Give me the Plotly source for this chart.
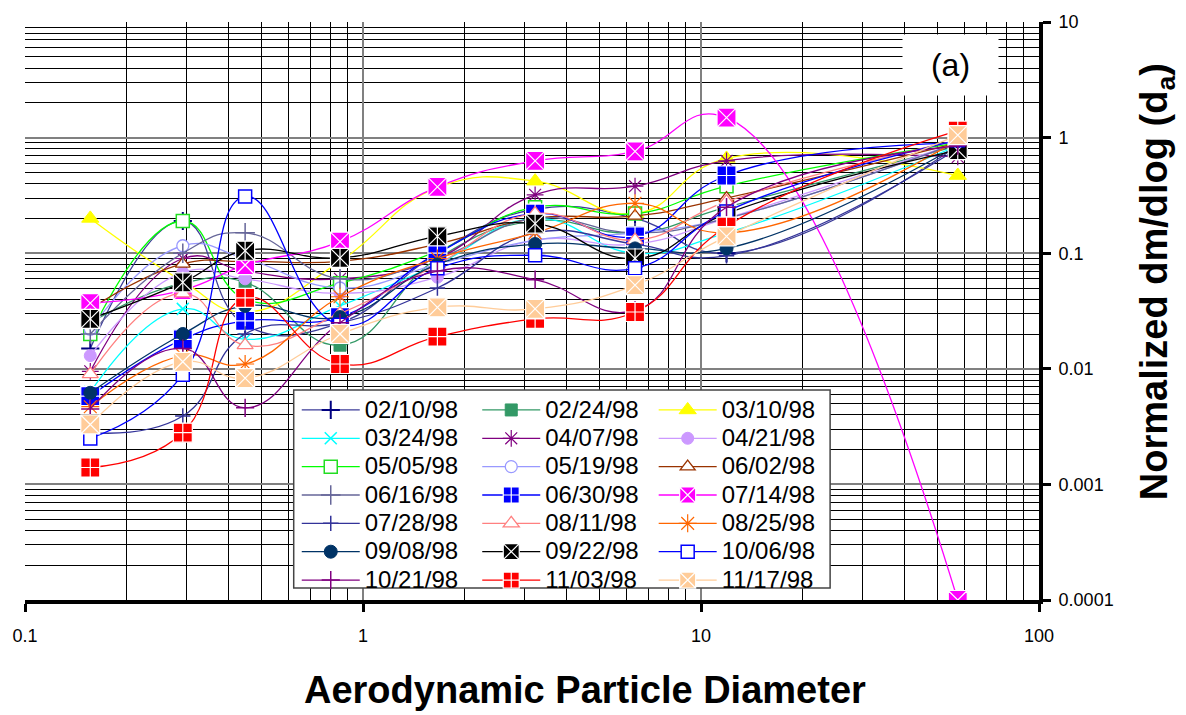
import plotly.graph_objects as go

# Aerodynamic particle diameter (um) of each impactor stage
diam = [0.156, 0.293, 0.448, 0.855, 1.66, 3.23, 6.38, 11.9, 57.5]

dates = ["02/10/98", "02/24/98", "03/10/98", "03/24/98", "04/07/98", "04/21/98",
         "05/05/98", "05/19/98", "06/02/98", "06/16/98", "06/30/98", "07/14/98",
         "07/28/98", "08/11/98", "08/25/98", "09/08/98", "09/22/98", "10/06/98",
         "10/21/98", "11/03/98", "11/17/98"]

v_0210 = [0.015, 0.19, 0.024, 0.025, 0.10, 0.24, 0.20, 0.10, 0.85]
v_0224 = [0.025, 0.055, 0.056, 0.016, 0.09, 0.19, 0.15, 0.25, 0.85]
v_0310 = [0.20, 0.057, 0.031, 0.085, 0.37, 0.42, 0.22, 0.66, 0.47]
v_0324 = [0.0063, 0.033, 0.018, 0.035, 0.08, 0.20, 0.10, 0.15, 0.85]
v_0407 = [0.0095, 0.09, 0.07, 0.060, 0.09, 0.32, 0.38, 0.63, 0.68]
v_0421 = [0.013, 0.068, 0.06, 0.045, 0.062, 0.13, 0.12, 0.20, 0.90]
v_0505 = [0.020, 0.19, 0.04, 0.055, 0.104, 0.25, 0.22, 0.38, 0.90]
v_0519 = [0.022, 0.116, 0.09, 0.05, 0.08, 0.13, 0.15, 0.20, 0.90]
v_0602 = [0.033, 0.081, 0.085, 0.085, 0.12, 0.20, 0.21, 0.30, 0.90]
v_0616 = [0.020, 0.10, 0.15, 0.06, 0.09, 0.20, 0.15, 0.20, 0.90]
v_0630 = [0.0058, 0.018, 0.026, 0.028, 0.10, 0.22, 0.14, 0.47, 0.90]
v_0714 = [0.037, 0.048, 0.079, 0.126, 0.375, 0.63, 0.76, 1.49, 0.0001]
v_0728 = [0.0028, 0.0039, 0.02, 0.025, 0.05, 0.15, 0.12, 0.095, 0.80]
v_0811 = [0.009, 0.045, 0.016, 0.03, 0.08, 0.22, 0.13, 0.28, 0.95]
v_0825 = [0.0047, 0.013, 0.011, 0.042, 0.09, 0.15, 0.27, 0.15, 0.95]
v_0908 = [0.0062, 0.020, 0.035, 0.028, 0.08, 0.12, 0.11, 0.11, 0.85]
v_0922 = [0.027, 0.056, 0.105, 0.091, 0.14, 0.18, 0.09, 0.22, 0.78]
v_1006 = [0.0025, 0.0089, 0.31, 0.024, 0.074, 0.096, 0.074, 0.23, 0.95]
v_1021 = [0.0045, 0.015, 0.0046, 0.025, 0.07, 0.059, 0.032, 0.25, 0.85]
v_1103 = [0.0014, 0.0028, 0.041, 0.011, 0.019, 0.027, 0.031, 0.17, 1.15]
v_1117 = [0.0033, 0.0115, 0.0083, 0.020, 0.034, 0.033, 0.053, 0.14, 1.05]

values = [v_0210, v_0224, v_0310, v_0324, v_0407, v_0421, v_0505, v_0519, v_0602,
          v_0616, v_0630, v_0714, v_0728, v_0811, v_0825, v_0908, v_0922, v_1006,
          v_1021, v_1103, v_1117]

x_ticks = [0.1, 1, 10, 100]
x_tick_text = ["0.1", "1", "10", "100"]
y_ticks = [0.0001, 0.001, 0.01, 0.1, 1, 10]
y_tick_text = ["0.0001", "0.001", "0.01", "0.1", "1", "10"]

# styles: (line colour, symbol, fill, marker line colour, size, marker line width)
styles = [
    ("#3d3d99", "cross-thin", "#000080", "#000080", 13, 2),
    ("#339966", "square", "#339966", "#339966", 12, 1),
    ("#FFFF00", "triangle-up", "#FFFF00", "#FFFF00", 15, 1),
    ("#00FFFF", "x-thin", "#00FFFF", "#00FFFF", 12, 1.5),
    ("#800080", "asterisk", "#800080", "#800080", 14, 1.2),
    ("#CC99FF", "circle", "#CC99FF", "#CC99FF", 12, 1),
    ("#00FF00", "square", "white", "#22DD22", 13, 1.5),
    ("#9999FF", "circle", "white", "#9999FF", 12, 1.3),
    ("#993300", "triangle-up", "white", "#993300", 13, 1.3),
    ("#666699", "cross-thin", "#666699", "#666699", 14, 1.5),
    ("#0000FF", "square-cross", "#0000FF", "white", 19, 1.2),
    ("#FF00FF", "square-x", "#FF00FF", "white", 19, 1.2),
    ("#333399", "cross-thin", "#333399", "#333399", 11, 1.5),
    ("#FF8080", "triangle-up", "white", "#FF8080", 14, 1.3),
    ("#FF6600", "asterisk", "#FF6600", "#FF6600", 15, 1.2),
    ("#003366", "circle", "#003366", "#003366", 13, 1),
    ("#000000", "square-x", "#000000", "white", 19, 1.2),
    ("#0000FF", "square", "white", "#0000FF", 13, 1.5),
    ("#800080", "cross-thin", "#800080", "#800080", 13, 1.5),
    ("#FF0000", "square-cross", "#FF0000", "white", 19, 1.2),
    ("#FFCC99", "square-x", "#FFCC99", "white", 19, 1.2),
]

FONT = "Arial, Liberation Sans, sans-serif"
fig = go.Figure()
legends = ["legend", "legend2", "legend3"]
for i, (name, vals, st) in enumerate(zip(dates, values, styles)):
    lc, sym, fill, mlc, size, mlw = st
    fig.add_trace(go.Scatter(
        x=diam, y=vals, mode="lines+markers",
        name="<span style='font-size:24px'>" + name + "</span>",
        line=dict(color=lc, width=1.3, shape="spline", smoothing=1.3),
        marker=dict(symbol=sym, color=fill, size=size,
                    line=dict(color=mlc, width=mlw)),
        legend=legends[i % 3], hoverinfo="skip"))
    if name == "09/22/98":
        fig.add_trace(go.Scatter(
            x=diam, y=vals, mode="markers", showlegend=False,
            marker=dict(symbol="line-ns", size=15,
                        line=dict(color="white", width=1.2)),
            hoverinfo="skip"))

minor_x = [m * 10 ** e for e in (-1, 0, 1) for m in range(2, 10)]
minor_y = [m * 10 ** e for e in (-4, -3, -2, -1, 0) for m in range(2, 10)]

fig.update_xaxes(
    type="log", range=[-1, 2], tickvals=x_ticks, ticktext=x_tick_text,
    showgrid=True, gridcolor="#808080", gridwidth=2,
    minor=dict(tickvals=minor_x, showgrid=True, gridcolor="#000000", gridwidth=1, ticks=""),
    showline=True, linecolor="black", linewidth=4,
    ticks="outside", ticklen=8, tickwidth=3, tickcolor="black",
    tickfont=dict(family=FONT, size=18, color="black"), ticklabelstandoff=8,
    zeroline=False)
fig.update_yaxes(
    type="log", range=[-4, 1], side="right", tickvals=y_ticks, ticktext=y_tick_text,
    showgrid=True, gridcolor="#808080", gridwidth=2,
    minor=dict(tickvals=minor_y, showgrid=True, gridcolor="#000000", gridwidth=1, ticks=""),
    showline=True, linecolor="black", linewidth=4,
    ticks="outside", ticklen=8, tickwidth=3, tickcolor="black",
    tickfont=dict(family=FONT, size=18, color="black"), ticklabelstandoff=4,
    zeroline=False)

def leg(xp):
    return dict(x=xp, y=0.362, xanchor="left", yanchor="top", orientation="v",
                bgcolor="rgba(0,0,0,0)", borderwidth=0, itemwidth=58,
                tracegroupgap=0,
                font=dict(family=FONT, size=19.5, color="black"))

fig.update_layout(
    width=1186, height=715,
    margin=dict(l=25, r=147, t=19, b=115),
    paper_bgcolor="white", plot_bgcolor="white",
    font=dict(family=FONT, color="black"),
    legend=leg(0.268), legend2=leg(0.446), legend3=leg(0.620),
    showlegend=True, hovermode=False,
    shapes=[dict(type="rect", xref="paper", yref="paper",
                 x0=0.265, x1=0.794, y0=0.0207, y1=0.3632,
                 line=dict(color="#444444", width=1.5), fillcolor="white",
                 layer="above")],
    annotations=[
        dict(text="(a)", xref="paper", yref="paper", x=0.913, y=0.926,
             xanchor="center", yanchor="middle",
             showarrow=False, bgcolor="white", width=93, height=58,
             font=dict(family=FONT, size=32, color="black")),
        dict(text="<b>Aerodynamic Particle Diameter</b>", xref="paper", yref="paper",
             x=0.552, y=-0.155, xanchor="center", yanchor="middle", showarrow=False,
             font=dict(family=FONT, size=38, color="black")),
        dict(text="<b>Normalized dm/dlog (d<sub>a</sub>)</b>", xref="paper", yref="paper",
             x=1.116, y=0.551, xanchor="center", yanchor="middle", showarrow=False,
             textangle=-90, font=dict(family=FONT, size=38, color="black")),
    ],
)

fig.write_html("out.html", config={"displayModeBar": False},
               post_script="document.body.style.margin='0';")
